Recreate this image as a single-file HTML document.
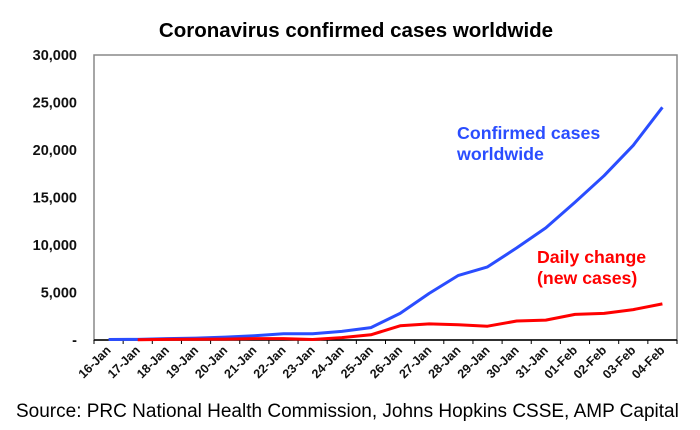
<!DOCTYPE html>
<html><head><meta charset="utf-8"><style>
body{margin:0;background:#fff;font-family:"Liberation Sans",Arial,sans-serif}
svg text{font-family:"Liberation Sans",Arial,sans-serif}
</style></head><body>
<svg id="chart" width="700" height="425" viewBox="0 0 700 425">
<text x="356" y="37" text-anchor="middle" font-size="20.5" font-weight="bold" fill="#000">Coronavirus confirmed cases worldwide</text>
<rect x="94" y="55" width="583" height="285" fill="none" stroke="#888" stroke-width="1.5"/>
<text x="457" y="139" font-size="17.8" font-weight="bold" fill="#2a4dff">Confirmed cases</text>
<text x="457" y="160" font-size="17.8" font-weight="bold" fill="#2a4dff">worldwide</text>
<text x="537" y="263" font-size="17.7" font-weight="bold" fill="#ff0000">Daily change</text>
<text x="537" y="284" font-size="17.7" font-weight="bold" fill="#ff0000">(new cases)</text>
<text x="16" y="417" font-size="19" fill="#000">Source: PRC National Health Commission, Johns Hopkins CSSE, AMP Capital</text>
</svg>
<script>
const categories=["16-Jan","17-Jan","18-Jan","19-Jan","20-Jan","21-Jan","22-Jan","23-Jan","24-Jan","25-Jan","26-Jan","27-Jan","28-Jan","29-Jan","30-Jan","31-Jan","01-Feb","02-Feb","03-Feb","04-Feb"];
const confirmed=[50,60,150,200,300,450,650,650,900,1300,2800,4900,6800,7700,9700,11800,14500,17300,20500,24500];
const dailyChange=[null,20,60,80,100,150,150,50,250,550,1500,1700,1600,1450,2000,2100,2700,2800,3200,3800];
const yTicks=[0,5000,10000,15000,20000,25000,30000];
const yTickLabels=["-","5,000","10,000","15,000","20,000","25,000","30,000"];

const NS="http://www.w3.org/2000/svg";
const svg=document.getElementById('chart');
const L=94,R=677,T=55,B=340,yMax=30000;
const step=(R-L)/categories.length;
const xPos=i=>L+step*(i+0.5);
const yPos=v=>B-(v/yMax)*(B-T);
function mk(tag,attrs){const e=document.createElementNS(NS,tag);for(const k in attrs)e.setAttribute(k,attrs[k]);svg.appendChild(e);return e;}

yTicks.forEach((v,i)=>{
  const t=mk('text',{x:77,y:yPos(v)+5,'text-anchor':'end','font-size':14.5,'font-weight':'bold',fill:'#111'});
  t.textContent=yTickLabels[i];
  
  
});
const ax=mk('line',{x1:L,y1:B,x2:R,y2:B,stroke:'#000','stroke-width':1.5});


for(let i=0;i<=categories.length;i++){
  const x=L+step*i;
  const tk=mk('line',{x1:x,y1:B,x2:x,y2:B+4,stroke:'#000','stroke-width':1});
  
  
}
categories.forEach((c,i)=>{
  const x=xPos(i)+3,y=B+11;
  const t=mk('text',{x:x,y:y,'text-anchor':'end','font-size':12.5,'font-weight':'bold',fill:'#111',transform:`rotate(-45 ${x} ${y})`});
  t.textContent=c;
  
  
});
function line(data,color,name){
  const pts=[];data.forEach((v,i)=>{if(v!==null)pts.push(xPos(i).toFixed(1)+','+yPos(v).toFixed(1));});
  const p=mk('polyline',{points:pts.join(' '),fill:'none',stroke:color,'stroke-width':3,'stroke-linejoin':'round'});
  
  
}
line(confirmed,'#2a4dff','confirmed-cases-line');
line(dailyChange,'#ff0000','daily-change-line');
</script>
</body></html>
